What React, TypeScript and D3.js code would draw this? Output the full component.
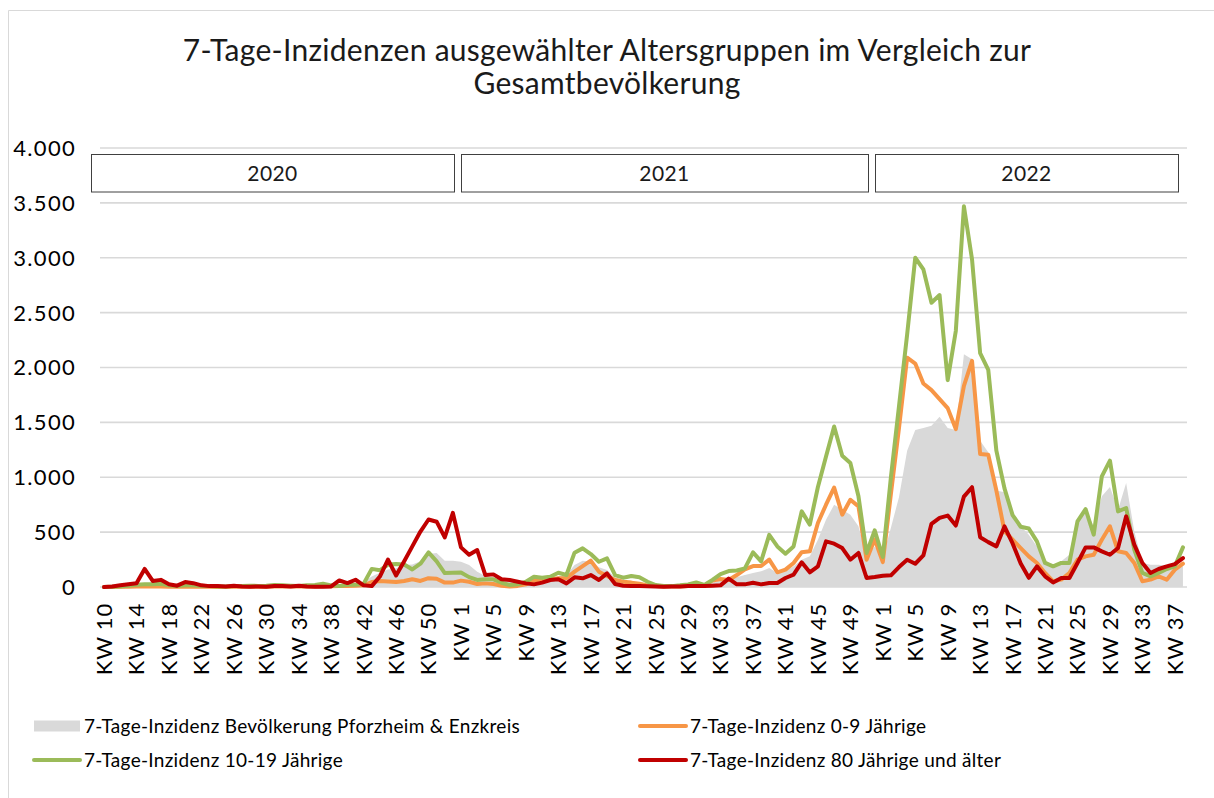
import React from "react";
import * as d3 from "d3";

// Kalenderwochen: 2020 KW 10–53, 2021 KW 1–52, 2022 KW 1–38
const weeks2020 = d3.range(10, 54).map((w) => `KW ${w}`);
const weeks2021 = d3.range(1, 53).map((w) => `KW ${w}`);
const weeks2022 = d3.range(1, 39).map((w) => `KW ${w}`);
const weeks = [...weeks2020, ...weeks2021, ...weeks2022];

const years = ["2020", "2021", "2022"];
const yTicks = [0, 500, 1000, 1500, 2000, 2500, 3000, 3500, 4000];

// 7-Tage-Inzidenz Bevölkerung Pforzheim & Enzkreis
const gesamt = [
  0, 2, 8, 20, 28, 30, 28, 22, 15, 10, 8, 6, 4, 3, 3, 3, 4, 5, 6, 6, 8, 10, 12, 12, 10, 10, 12, 15, 18, 20,
  25, 30, 45, 95, 130, 160, 170, 200, 205, 235, 300, 310, 240, 240,
  230, 200, 140, 100, 88, 58, 45, 40, 50, 70, 75, 79, 95, 109, 200, 240, 230, 180, 155, 88, 64, 48, 40, 18,
  10, 8, 8, 10, 12, 15, 15, 40, 64, 88, 88, 109, 127, 143, 173, 127, 143, 188, 249, 280, 431, 613, 750, 704,
  659, 553, 280, 370,
  273, 540, 820, 1242, 1430, 1448, 1470, 1551, 1448, 1430, 2121, 2076, 1333, 1227, 879, 864, 650, 553, 477,
  370, 249, 188, 234, 294, 583, 704, 553, 826, 911, 704, 947, 507, 219, 203, 203, 194, 188, 188,
];

// 7-Tage-Inzidenz 0-9 Jährige
const age0to9 = [
  0, 0, 2, 3, 5, 5, 5, 4, 3, 2, 2, 2, 2, 2, 1, 1, 2, 2, 3, 3, 3, 4, 4, 4, 4, 5, 5, 6, 6, 8,
  10, 12, 15, 45, 55, 50, 45, 55, 70, 55, 80, 75, 40, 40,
  58, 48, 27, 33, 27, 12, 5, 10, 24, 58, 70, 70, 79, 79, 140, 191, 240, 140, 100, 64, 48, 40, 30, 15,
  8, 5, 5, 5, 8, 12, 15, 58, 73, 64, 109, 161, 191, 191, 250, 134, 158, 219, 316, 325, 583, 750, 905, 659,
  795, 735, 249, 435,
  227, 850, 1450, 2090, 2036, 1854, 1794, 1712, 1630, 1439, 1833, 2060, 1212, 1206, 879, 510, 431, 355, 279,
  219, 128, 52, 67, 128, 249, 279, 294, 431, 553, 325, 310, 219, 52, 67, 97, 67, 158, 213,
];

// 7-Tage-Inzidenz 10-19 Jährige
const age10to19 = [
  0, 2, 5, 12, 20, 25, 25, 30, 15, 10, 15, 15, 10, 8, 5, 5, 8, 10, 12, 10, 12, 18, 15, 12, 10, 15, 18, 30, 15, 10,
  20, 20, 30, 165, 152, 205, 210, 205, 160, 212, 315, 233, 127, 130,
  133, 90, 64, 70, 70, 39, 18, 24, 48, 94, 85, 94, 130, 109, 313, 352, 300, 230, 261, 109, 85, 100, 88, 48,
  18, 9, 8, 15, 24, 42, 18, 64, 118, 145, 150, 170, 316, 234, 475, 370, 304, 370, 689, 568, 911, 1190, 1463,
  1196, 1129, 826, 310, 516,
  273, 1000, 1650, 2300, 3000, 2894, 2590, 2660, 1885, 2333, 3469, 2985, 2130, 1979, 1242, 898, 655, 549, 533,
  416, 219, 188, 219, 219, 598, 710, 477, 1008, 1151, 689, 720, 340, 128, 97, 128, 164, 188, 361,
];

// 7-Tage-Inzidenz 80 Jährige und älter
const age80plus = [
  0, 5, 15, 25, 35, 165, 55, 65, 25, 12, 45, 35, 15, 8, 10, 5, 12, 5, 3, 5, 3, 10, 8, 5, 12, 5, 3, 2, 5, 60,
  36, 66, 15, 8, 95, 250, 105, 235, 370, 505, 615, 595, 452, 675,
  361, 294, 337, 109, 115, 70, 64, 48, 33, 24, 40, 64, 70, 33, 88, 79, 109, 64, 124, 27, 12, 9, 8, 6,
  5, 3, 5, 5, 8, 10, 8, 12, 15, 76, 24, 24, 38, 24, 36, 36, 82, 112, 225, 134, 188, 416, 395, 355,
  249, 310, 82, 91,
  103, 106, 182, 248, 212, 288, 576, 630, 651, 560, 824, 909, 454, 409, 370, 552, 397, 215, 84,
  188, 97, 42, 82, 82, 219, 361, 361, 325, 294, 355, 644, 386, 219, 128, 164, 188, 209, 264,
];

const FONT = "Lato, 'Open Sans', sans-serif";
const C_GRAY = "#d9d9d9";
const C_ORANGE = "#f79646";
const C_GREEN = "#9bbb59";
const C_RED = "#c00000";

const W = 1214;
const H = 798;
const plot = { left: 100, right: 1187, top: 148, bottom: 587 };
// hand-placed year boxes (px)
const yearBoxX = [
  [91, 454],
  [461, 868],
  [875, 1178],
];

const de = d3.formatLocale({ decimal: ",", thousands: ".", grouping: [3], currency: ["", "€"] });
const fmt = de.format(",d");

export default function App() {
  const idx = weeks.map((_, i) => i);
  const x = d3.scalePoint<number>().domain(idx).range([plot.left, plot.right]).padding(0.5);
  const y = d3.scaleLinear().domain([0, 4000]).range([plot.bottom, plot.top]);

  const line = d3
    .line<number>()
    .x((_, i) => x(i) as number)
    .y((d) => y(d));
  const area = d3
    .area<number>()
    .x((_, i) => x(i) as number)
    .y0(y(0))
    .y1((d) => y(d));

  const series = [
    { data: age0to9, color: C_ORANGE },
    { data: age10to19, color: C_GREEN },
    { data: age80plus, color: C_RED },
  ];

  const legend = [
    { label: "7-Tage-Inzidenz Bevölkerung Pforzheim & Enzkreis", color: C_GRAY, box: true, lx: 34, ly: 726 },
    { label: "7-Tage-Inzidenz 0-9 Jährige", color: C_ORANGE, box: false, lx: 640, ly: 726 },
    { label: "7-Tage-Inzidenz 10-19 Jährige", color: C_GREEN, box: false, lx: 34, ly: 760 },
    { label: "7-Tage-Inzidenz 80 Jährige und älter", color: C_RED, box: false, lx: 640, ly: 760 },
  ];

  return (
    <svg
      width={W}
      height={H}
      style={{ position: "absolute", left: 0, top: 0, background: "#fff", fontFamily: FONT }}
    >
      <rect x={0} y={0} width={W} height={H} fill="#fff" />
      <path d={`M8.5,${H} V10.5 H${W}`} fill="none" stroke="#d9d9d9" strokeWidth={1} />

      <text x={607} y={61} textAnchor="middle" fontSize={30} letterSpacing={0.28} fill="#1a1a1a">
        7-Tage-Inzidenzen ausgewählter Altersgruppen im Vergleich zur
      </text>
      <text x={607} y={94} textAnchor="middle" fontSize={30} letterSpacing={0.28} fill="#1a1a1a">
        Gesamtbevölkerung
      </text>

      {/* gridlines + y labels */}
      {yTicks.map((t) => (
        <g key={t}>
          <line x1={plot.left} x2={plot.right} y1={y(t)} y2={y(t)} stroke="#d9d9d9" strokeWidth={1.6} />
          <text x={76} y={y(t)} dy="0.36em" textAnchor="end" fontSize={22} letterSpacing={1.3} fill="#000">
            {fmt(t)}
          </text>
        </g>
      ))}

      {/* data */}
      <path d={area(gesamt) ?? ""} fill={C_GRAY} />
      {series.map((s) => (
        <path
          key={s.color}
          d={line(s.data) ?? ""}
          fill="none"
          stroke={s.color}
          strokeWidth={4}
          strokeLinejoin="round"
          strokeLinecap="round"
        />
      ))}

      {/* year boxes */}
      {years.map((yr, i) => (
        <g key={yr}>
          <rect
            x={yearBoxX[i][0] + 0.5}
            y={154.5}
            width={yearBoxX[i][1] - yearBoxX[i][0]}
            height={37.5}
            fill="#fff"
            stroke="#404040"
            strokeWidth={1}
          />
          <text
            x={(yearBoxX[i][0] + yearBoxX[i][1]) / 2}
            y={181}
            textAnchor="middle"
            fontSize={21}
            letterSpacing={0.4}
            fill="#1a1a1a"
          >
            {yr}
          </text>
        </g>
      ))}

      {/* x labels */}
      {weeks.map((w, i) =>
        i % 4 === 0 ? (
          <text
            key={i}
            transform={`translate(${x(i)},603) rotate(-90)`}
            textAnchor="end"
            dy="0.36em"
            fontSize={22}
            letterSpacing={0.8}
            fill="#000"
          >
            {w}
          </text>
        ) : null
      )}

      {/* legend */}
      {legend.map((l) => (
        <g key={l.label}>
          {l.box ? (
            <rect x={l.lx} y={l.ly - 5.5} width={46} height={11} fill={l.color} />
          ) : (
            <line x1={l.lx} x2={l.lx + 46} y1={l.ly} y2={l.ly} stroke={l.color} strokeWidth={4} strokeLinecap="round" />
          )}
          <text x={l.lx + 50} y={l.ly} dy="0.36em" fontSize={19} letterSpacing={0.3} fill="#000">
            {l.label}
          </text>
        </g>
      ))}
    </svg>
  );
}
